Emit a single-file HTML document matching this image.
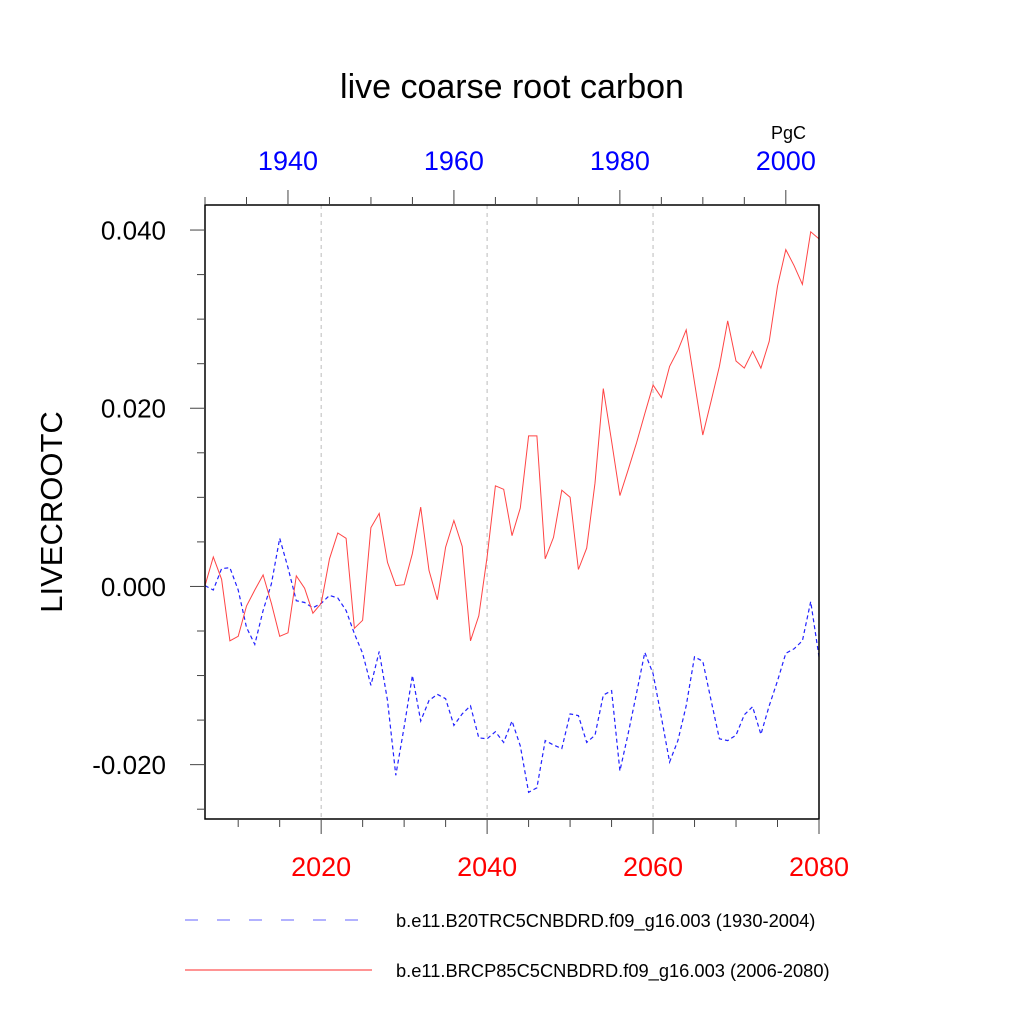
<!DOCTYPE html>
<html><head><meta charset="utf-8"><style>
body{margin:0;background:#fff;width:1024px;height:1024px;overflow:hidden}
svg text{font-family:"Liberation Sans",sans-serif}
</style></head><body>
<svg id="chart" width="1024" height="1024" viewBox="0 0 1024 1024" xmlns="http://www.w3.org/2000/svg">
<rect width="1024" height="1024" fill="#fff"/>
<text x="512" y="98" font-size="34" text-anchor="middle">live coarse root carbon</text>
<text x="806" y="139" font-size="18" text-anchor="end">PgC</text>
<text transform="translate(62,512) rotate(-90)" font-size="31" text-anchor="middle">LIVECROOTC</text>
<g id="grid"></g>
<g id="series"></g>
<g id="axes"></g>
<g>
<line x1="185" y1="920" x2="372" y2="920" stroke="#3333ff" stroke-opacity="0.6" stroke-width="1.2" stroke-dasharray="13,19"/>
<text x="396" y="927" font-size="18.3">b.e11.B20TRC5CNBDRD.f09_g16.003 (1930-2004)</text>
<line x1="185" y1="970" x2="372" y2="970" stroke="#ff5555" stroke-width="1.2"/>
<text x="396" y="977" font-size="18.3">b.e11.BRCP85C5CNBDRD.f09_g16.003 (2006-2080)</text>
</g>
</svg>
<script>
const histYears0 = 1930;
const rcpYears0 = 2006;
const histValues = [0.0001,-0.0004,0.0020,0.0021,-0.0004,-0.0046,-0.0065,-0.0027,0.0003,0.0054,0.0021,-0.0016,-0.0018,-0.0024,-0.0019,-0.0010,-0.0013,-0.0027,-0.0053,-0.0075,-0.0111,-0.0073,-0.0128,-0.0212,-0.0158,-0.0100,-0.0151,-0.0128,-0.0121,-0.0126,-0.0156,-0.0143,-0.0134,-0.0170,-0.0171,-0.0163,-0.0175,-0.0151,-0.0179,-0.0231,-0.0226,-0.0173,-0.0178,-0.0182,-0.0143,-0.0145,-0.0175,-0.0167,-0.0122,-0.0117,-0.0207,-0.0165,-0.0120,-0.0074,-0.0098,-0.0147,-0.0197,-0.0173,-0.0134,-0.0079,-0.0084,-0.0128,-0.0171,-0.0173,-0.0167,-0.0144,-0.0135,-0.0166,-0.0134,-0.0106,-0.0075,-0.0070,-0.0061,-0.0017,-0.0079];
const rcpValues = [0.0001,0.0033,0.0008,-0.0061,-0.0056,-0.0022,-0.0004,0.0013,-0.0019,-0.0056,-0.0052,0.0012,-0.0002,-0.0030,-0.0019,0.0031,0.0060,0.0054,-0.0047,-0.0038,0.0066,0.0082,0.0027,0.0001,0.0002,0.0037,0.0089,0.0018,-0.0015,0.0044,0.0074,0.0045,-0.0061,-0.0033,0.0033,0.0113,0.0109,0.0057,0.0088,0.0169,0.0169,0.0031,0.0055,0.0108,0.0100,0.0019,0.0043,0.0116,0.0222,0.0163,0.0102,0.0131,0.0161,0.0194,0.0226,0.0212,0.0247,0.0265,0.0288,0.0229,0.0170,0.0208,0.0247,0.0298,0.0253,0.0245,0.0264,0.0245,0.0275,0.0337,0.0378,0.0360,0.0339,0.0398,0.0390];
const yTickValues = [0.04,0.02,0.0,-0.02];
const yTickLabels = ["0.040","0.020","0.000","-0.020"];
const topTickLabels = ["1940","1960","1980","2000"];
const bottomTickLabels = ["2020","2040","2060","2080"];

const L=205,R=819,T=205,B=819;
const Y0=-0.02610, Y1=0.04281;
const y = v => T + (Y1 - v)/(Y1 - Y0)*(B - T);
const xr = yr => L + (yr - 2006)/(2080-2006)*(R-L);
const xh = yr => L + (yr - 1930)/(2004-1930)*(R-L);
const NS='http://www.w3.org/2000/svg';
function mk(tag, parent, attrs){const e=document.createElementNS(NS,tag);for(const k in attrs)e.setAttribute(k,attrs[k]);parent.appendChild(e);return e;}
const grid=document.getElementById('grid'), ser=document.getElementById('series'), ax=document.getElementById('axes');

[2020,2040,2060].forEach(yr=>{
  const l=mk('line',grid,{x1:xr(yr),x2:xr(yr),y1:T,y2:B,stroke:'#bbbbbb','stroke-width':1,'stroke-dasharray':'4,4'});
  
  
});

const hp=histValues.map((v,i)=>xh(histYears0+i).toFixed(1)+','+y(v).toFixed(1)).join(' ');
const hl=mk('polyline',ser,{points:hp,fill:'none',stroke:'#2222ff','stroke-width':1.2,'stroke-dasharray':'4,3'});


const rp=rcpValues.map((v,i)=>xr(rcpYears0+i).toFixed(1)+','+y(v).toFixed(1)).join(' ');
const rl=mk('polyline',ser,{points:rp,fill:'none',stroke:'#ff4444','stroke-width':1});



const frame=mk('rect',ax,{x:L,y:T,width:R-L,height:B-T,fill:'none',stroke:'#000','stroke-width':1.5});



for(let k=-5;k<=8;k++){
  const v=k*0.005; const yy=y(v); if(yy<T||yy>B) continue;
  const major=(k%4===0);
  const t=mk('line',ax,{x1:L-(major?15:8),x2:L,y1:yy,y2:yy,stroke:'#444','stroke-width':1});
  
  
}
yTickValues.forEach((v,i)=>{
  const t=mk('text',ax,{x:166,y:y(v)+9.5,'font-size':26,'text-anchor':'end'});
  t.textContent=yTickLabels[i];
  
  
});
for(let yr=1930;yr<=2004;yr+=5){
  const major=(yr%20===0);
  const t=mk('line',ax,{x1:xh(yr),x2:xh(yr),y1:T-(major?15:8),y2:T,stroke:'#444','stroke-width':1});
  
  
}
topTickLabels.forEach(s=>{
  const t=mk('text',ax,{x:xh(+s),y:170,'font-size':27,'text-anchor':'middle',fill:'#0000ff'});
  t.textContent=s;
  
  
});
for(let yr=2010;yr<=2080;yr+=5){
  const major=(yr%20===0);
  const t=mk('line',ax,{x1:xr(yr),x2:xr(yr),y1:B,y2:B+(major?15:8),stroke:'#444','stroke-width':1});
  
  
}
bottomTickLabels.forEach(s=>{
  const t=mk('text',ax,{x:xr(+s),y:876,'font-size':27,'text-anchor':'middle',fill:'#ff0000'});
  t.textContent=s;
  
  
});
</script>
</body></html>
